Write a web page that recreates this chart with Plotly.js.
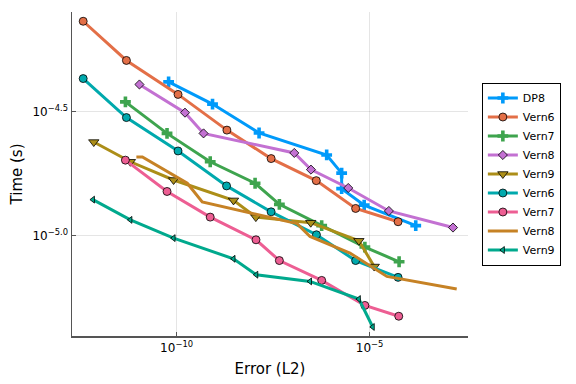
<!DOCTYPE html>
<html>
<head>
<meta charset="utf-8">
<script src="https://cdn.plot.ly/plotly-3.0.1.min.js"></script>
<style>html,body{margin:0;padding:0;background:#fff;}#chart{width:576px;height:384px;}</style>
</head>
<body>
<div id="chart"></div>
<script>
// Error (L2) and Time (s)
const namesList = ["DP8", "Vern6", "Vern7", "Vern8", "Vern9", "Vern6", "Vern7", "Vern8", "Vern9"];

const dp8Err  = [6.21e-11, 8.53e-10, 1.37e-8, 7.73e-7, 1.89e-6, 1.89e-6, 7.24e-6, 1.57e-4];
const dp8Time = [4.18e-5, 3.40e-5, 2.60e-5, 2.12e-5, 1.79e-5, 1.55e-5, 1.33e-5, 1.10e-5];

const vern6aErr  = [3.80e-13, 5.01e-12, 1.09e-10, 2.01e-9, 2.81e-8, 4.16e-7, 4.35e-6, 5.48e-5];
const vern6aTime = [7.34e-5, 5.10e-5, 3.72e-5, 2.67e-5, 2.05e-5, 1.67e-5, 1.29e-5, 1.14e-5];

const vern7aErr  = [4.72e-12, 5.65e-11, 7.43e-10, 1.08e-8, 4.60e-8, 5.74e-7, 7.55e-6, 5.82e-5];
const vern7aTime = [3.47e-5, 2.59e-5, 1.99e-5, 1.63e-5, 1.34e-5, 1.10e-5, 9.01e-6, 7.86e-6];

const vern8aErr  = [1.09e-11, 1.65e-10, 4.99e-10, 1.12e-7, 3.03e-7, 2.80e-6, 3.16e-5, 1.45e-3];
const vern8aTime = [4.08e-5, 3.14e-5, 2.59e-5, 2.16e-5, 1.85e-5, 1.56e-5, 1.26e-5, 1.08e-5];

const vern9aErr  = [7.15e-13, 6.35e-12, 8.36e-11, 2.98e-9, 1.13e-8, 2.99e-7, 5.28e-6, 1.32e-5];
const vern9aTime = [2.39e-5, 1.99e-5, 1.68e-5, 1.39e-5, 1.19e-5, 1.13e-5, 9.55e-6, 7.52e-6];

const vern6bErr  = [3.80e-13, 5.01e-12, 1.09e-10, 1.97e-9, 2.81e-8, 4.20e-7, 4.35e-6, 5.48e-5];
const vern6bTime = [4.31e-5, 3.00e-5, 2.20e-5, 1.59e-5, 1.25e-5, 1.01e-5, 7.95e-6, 6.80e-6];

const vern7bErr  = [4.72e-12, 5.65e-11, 7.43e-10, 1.14e-8, 4.60e-8, 5.74e-7, 7.55e-6, 5.70e-5];
const vern7bTime = [2.02e-5, 1.51e-5, 1.19e-5, 9.64e-6, 7.95e-6, 6.61e-6, 5.24e-6, 4.74e-6];

const vern8bErr  = [9.08e-12, 1.30e-11, 1.89e-10, 4.61e-10, 1.32e-7, 2.86e-7, 3.10e-6, 2.80e-5, 1.81e-3];
const vern8bTime = [2.08e-5, 2.08e-5, 1.63e-5, 1.37e-5, 1.12e-5, 9.94e-6, 8.52e-6, 6.86e-6, 6.10e-6];

const vern9bErr  = [6.80e-13, 6.35e-12, 8.36e-11, 2.98e-9, 1.16e-8, 2.86e-7, 5.28e-6, 1.21e-5];
const vern9bTime = [1.40e-5, 1.16e-5, 9.79e-6, 8.08e-6, 6.97e-6, 6.55e-6, 5.56e-6, 4.29e-6];

const xTickVals = [1e-10, 1e-5];
const xTickText = ["10<sup>−10</sup>", "10<sup>−5</sup>"];
const yTickVals = [Math.pow(10, -4.5), 1e-5];
const yTickText = ["10<sup>−4.5</sup>", "10<sup>−5.0</sup>"];

const colors = ["#009AFA", "#E36F47", "#3EA44E", "#C371D2", "#AC8E18", "#00A9AD", "#ED5E93", "#C68225", "#00A98D"];
const symbols = ["cross", "circle", "cross", "diamond", "triangle-down", "circle", "circle", "none", "triangle-left"];
const sizes = [9, 8, 9, 7, 9, 8, 8, 0, 6];

const xs = [dp8Err, vern6aErr, vern7aErr, vern8aErr, vern9aErr, vern6bErr, vern7bErr, vern8bErr, vern9bErr];
const ys = [dp8Time, vern6aTime, vern7aTime, vern8aTime, vern9aTime, vern6bTime, vern7bTime, vern8bTime, vern9bTime];

const traces = xs.map((x, i) => {
  const isCross = symbols[i] === "cross";
  const t = {
    x: x, y: ys[i], name: namesList[i], type: "scatter",
    mode: symbols[i] === "none" ? "lines" : "lines+markers",
    line: {color: colors[i], width: 3},
  };
  if (symbols[i] !== "none") {
    t.marker = {symbol: symbols[i], size: sizes[i], color: colors[i],
      line: {color: isCross ? colors[i] : "#000", width: isCross ? 0 : 0.8}};
  }
  return t;
});

const layout = {
  width: 576, height: 384,
  margin: {l: 72, r: 108, t: 12, b: 48},
  paper_bgcolor: "#fff", plot_bgcolor: "#fff",
  font: {family: "DejaVu Sans", color: "#000", size: 11},
  showlegend: true,
  legend: {
    x: 1.035, xanchor: "left", y: 0.5, yanchor: "middle",
    bordercolor: "#000", borderwidth: 1, bgcolor: "#fff",
    font: {family: "DejaVu Sans", size: 11},
    tracegroupgap: 0
  },
  xaxis: {
    type: "log", range: [-12.71, -2.45],
    tickvals: xTickVals, ticktext: xTickText,
    ticks: "inside", ticklen: 4, tickcolor: "#555",
    showgrid: true, gridcolor: "rgba(0,0,0,0.1)", gridwidth: 1,
    showline: true, linecolor: "#555", linewidth: 1.5,
    zeroline: false, mirror: false,
    tickfont: {size: 12},
    title: {text: "Error (L2)", font: {size: 15}, standoff: 9}
  },
  yaxis: {
    type: "log", range: [-5.404, -4.097],
    tickvals: yTickVals, ticktext: yTickText,
    ticks: "inside", ticklen: 4, tickcolor: "#555",
    showgrid: true, gridcolor: "rgba(0,0,0,0.1)", gridwidth: 1,
    showline: true, linecolor: "#555", linewidth: 1.5,
    zeroline: false, mirror: false,
    tickfont: {size: 12},
    title: {text: "Time (s)", font: {size: 15}, standoff: 6}
  }
};

Plotly.newPlot("chart", traces, layout, {staticPlot: true, displayModeBar: false});
</script>
</body>
</html>
